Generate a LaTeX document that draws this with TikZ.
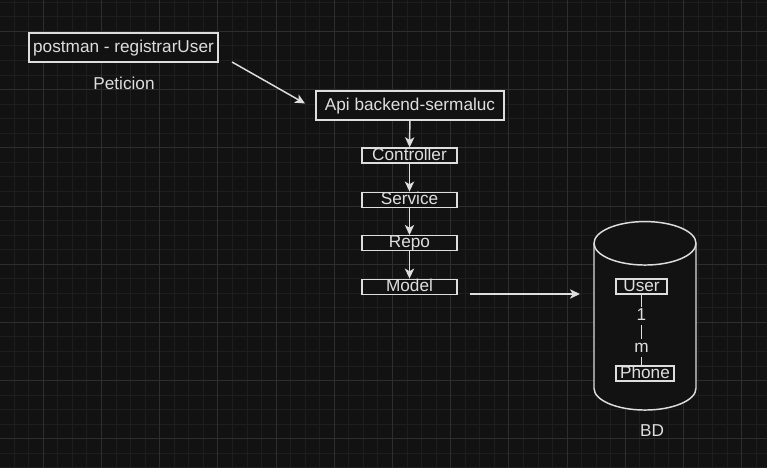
\documentclass[tikz,border=0pt]{standalone}
\usepackage{fontspec}
\setmainfont{Liberation Sans}
\usetikzlibrary{arrows,arrows.meta}
\usetikzlibrary{backgrounds,positioning}
\definecolor{bgdark}{RGB}{18,18,18}
\definecolor{gridminor}{RGB}{30,30,30}
\definecolor{gridmajor}{RGB}{46,46,46}
\definecolor{ink}{RGB}{222,222,222}

\begin{document}
\begin{tikzpicture}[x=0.75pt,y=-0.75pt,line width=1.1pt,ink,>={Stealth[length=7.5pt,width=7pt,inset=2pt]}]
      \tikzstyle{every node}=[text=ink,font=\fontsize{12.9}{15}\selectfont,inner sep=0pt]
      \tikzstyle{bigbox}=[draw=ink,fill=bgdark,minimum height=21.75pt,text height=9pt,text depth=2.25pt]
      \tikzstyle{layerbox}=[draw=ink,fill=bgdark,minimum width=71.25pt,minimum height=11.25pt,text height=9pt,text depth=2.25pt]
      \tikzstyle{entity}=[draw=ink,fill=bgdark,minimum height=11.25pt,text height=9pt,text depth=2.25pt]
      \tikzstyle{mult}=[fill=bgdark,text height=9pt,text depth=2.25pt,inner sep=1.1pt]

      \useasboundingbox (0,0) rectangle (767,468);
      \fill[bgdark] (0,0) rectangle (767,468);
      \foreach \k in {0,...,52} \draw[gridminor,line width=0.75pt] (14.2+14.55*\k,0) -- (14.2+14.55*\k,468);
      \foreach \k in {0,...,32} \draw[gridminor,line width=0.75pt] (0,2.3+14.55*\k) -- (767,2.3+14.55*\k);
      \foreach \k in {0,...,12} \draw[gridmajor,line width=0.75pt] (43.3+58.2*\k,0) -- (43.3+58.2*\k,468);
      \foreach \k in {0,...,7}  \draw[gridmajor,line width=0.75pt] (0,31.4+58.2*\k) -- (767,31.4+58.2*\k);

      \draw[fill=bgdark] (594,243.3) -- (594,388.3) arc[start angle=180,end angle=360,x radius=38.25pt,y radius=16.3pt]
            -- (696,243.3) arc[start angle=0,end angle=180,x radius=38.25pt,y radius=16.3pt] -- cycle;
      \draw (594,243.3) arc[start angle=180,end angle=360,x radius=38.25pt,y radius=16.3pt];

      \node[bigbox,minimum width=141.75pt] (postman) at (123.5,47.5) {postman - registrarUser};
      \node (peticion) at (124,83) {Peticion};
      \node[bigbox,minimum width=141pt] (api) at (410,105.5) {Api backend-sermaluc};
      \node[layerbox] (controller) at (409.5,155.5) {Controller};
      \node[layerbox] (service) at (409.5,199.8) {Service};
      \node[layerbox] (repo) at (409.5,243.2) {Repo};
      \node[layerbox] (model) at (409.5,286.8) {Model};
      \node[entity,minimum width=38.25pt] (user) at (641.5,286.5) {User};
      \node[entity,minimum width=43.5pt] (phone) at (645,373.5) {Phone};
      \node (bd) at (652,431) {BD};
      \coordinate (reqfrom) at (232,62);
      \coordinate (reqto) at (305,103.5);
      \coordinate (savefrom) at (470,294);
      \coordinate (saveto) at (580,294);

      \draw[->] (reqfrom) -- (reqto);
      \draw[->] (api) -- (controller);
      \draw[->] (controller) -- (service);
      \draw[->] (service) -- (repo);
      \draw[->] (repo) -- (model);
      \draw[->] (savefrom) -- (saveto);
      \draw (user.south) -- node[mult,pos=0.3] {1} node[mult,pos=0.75] {m} (user.south |- phone.north);
    \end{tikzpicture}
\end{document}
